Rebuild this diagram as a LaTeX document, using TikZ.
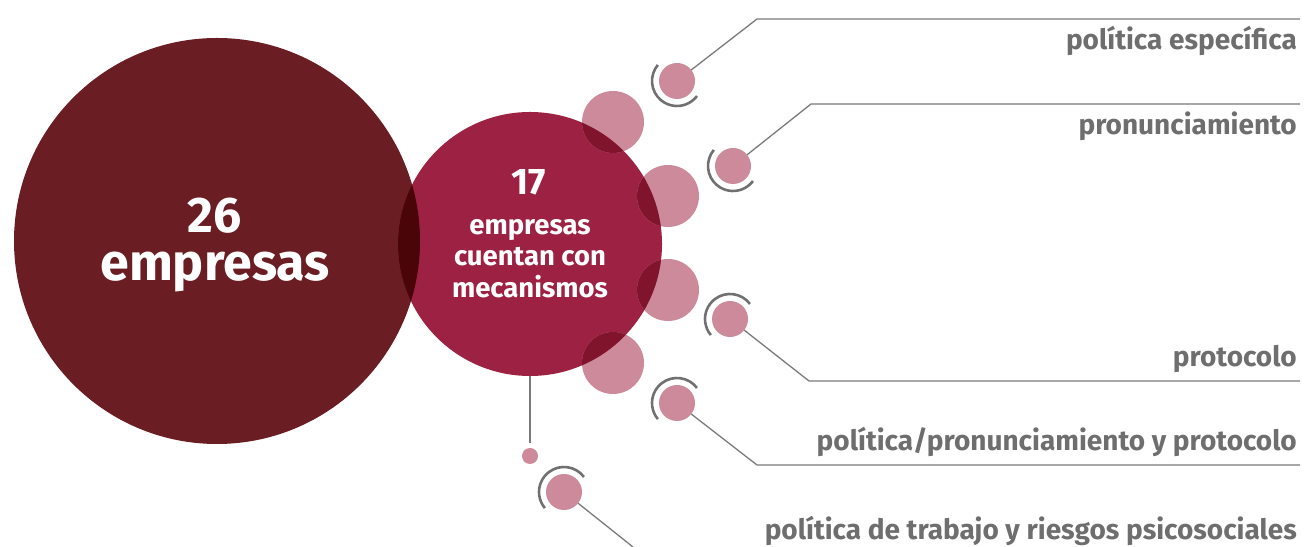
\documentclass[tikz,border=0pt]{standalone}
\usepackage{fontspec}
\setmainfont{Fira Sans}
\definecolor{bigc}{HTML}{6A1D22}
\definecolor{midc}{HTML}{9D2142}
\definecolor{bigmid}{HTML}{4A0509}
\definecolor{pinkc}{HTML}{CC8A9B}
\definecolor{pinkmid}{HTML}{80142D}
\definecolor{linec}{HTML}{7A7A7A}
\definecolor{arcc}{HTML}{707070}
\definecolor{textc}{HTML}{6E6E6E}
\begin{document}
\begin{tikzpicture}[x=1bp,y=1bp,
  disc/.style={circle,inner sep=0pt,outer sep=0pt,draw=none},
  conn/.style={draw=linec,line width=1.3bp},
  ring/.style={draw=arcc,line width=2.6bp},
  lab/.style={anchor=base east,inner sep=0pt,text=textc,font=\fontsize{28bp}{32bp}\selectfont\bfseries},
  wtext/.style={anchor=base,inner sep=0pt,text=white}]
\useasboundingbox (0,0) rectangle (1306,547);
% main circles
\node[disc,fill=bigc,minimum size=406bp] (big) at (217,306) {};
\node[disc,fill=midc,minimum size=264bp] (mid) at (530,303) {};
\begin{scope}
  \clip (217,306) circle (203);
  \fill[bigmid] (530,303) circle (132);
\end{scope}
% large pink discs
\node[disc,fill=pinkc,minimum size=62bp] (p1) at (613,425) {};
\node[disc,fill=pinkc,minimum size=62bp] (p2) at (668,351) {};
\node[disc,fill=pinkc,minimum size=62bp] (p3) at (668,257) {};
\node[disc,fill=pinkc,minimum size=62bp] (p4) at (613,184) {};
\begin{scope}
  \clip (530,303) circle (132);
  \fill[pinkmid] (613,425) circle (31);
  \fill[pinkmid] (668,351) circle (31);
  \fill[pinkmid] (668,257) circle (31);
  \fill[pinkmid] (613,184) circle (31);
\end{scope}
% texts in circles
\node[wtext,font=\fontsize{50bp}{54bp}\selectfont\bfseries] (t26) at (215,314) {26};
\node[wtext,font=\fontsize{52bp}{56bp}\selectfont\bfseries] (temp) at (215,266) {empresas};
\node[wtext,font=\fontsize{37bp}{40bp}\selectfont\bfseries] (t17) at (529,352) {17};
\node[wtext,font=\fontsize{27.5bp}{32bp}\selectfont\bfseries] (tm1) at (530,312) {empresas};
\node[wtext,font=\fontsize{27.5bp}{32bp}\selectfont\bfseries] (tm2) at (530,281) {cuentan con};
\node[wtext,font=\fontsize{27.5bp}{32bp}\selectfont\bfseries] (tm3) at (530,249) {mecanismos};
% small discs
\node[disc,fill=pinkc,minimum size=36bp] (sa) at (677,466) {};
\node[disc,fill=pinkc,minimum size=36bp] (sb) at (733,381) {};
\node[disc,fill=pinkc,minimum size=36bp] (sc) at (730,228) {};
\node[disc,fill=pinkc,minimum size=36bp] (sd) at (677,144) {};
\node[disc,fill=pinkc,minimum size=36bp] (se) at (564,55) {};
\node[disc,fill=pinkc,minimum size=16bp] (tiny) at (530,91) {};
% rings
\draw[ring] ([shift={(140:25)}]sa.center) arc[start angle=140,end angle=323,radius=25];
\draw[ring] ([shift={(140:25)}]sb.center) arc[start angle=140,end angle=323,radius=25];
\draw[ring] ([shift={(37:25)}]sc.center) arc[start angle=37,end angle=220,radius=25];
\draw[ring] ([shift={(37:25)}]sd.center) arc[start angle=37,end angle=220,radius=25];
\draw[ring] ([shift={(37:25)}]se.center) arc[start angle=37,end angle=220,radius=25];
% connector coordinates
\coordinate (ka) at (757,528); \coordinate (ea) at (1300,528);
\coordinate (kb) at (811,443); \coordinate (eb) at (1300,443);
\coordinate (kc) at (809,166); \coordinate (ec) at (1300,166);
\coordinate (kd) at (757,82);  \coordinate (ed) at (1300,82);
\coordinate (ke) at (633,0);
\draw[conn] (sa) -- (ka) -- (ea);
\draw[conn] (sb) -- (kb) -- (eb);
\draw[conn] (sc) -- (kc) -- (ec);
\draw[conn] (sd) -- (kd) -- (ed);
\draw[conn] (se) -- (ke);
\draw[draw=linec,line width=2bp] (mid.south) -- ([yshift=5bp]tiny.north);
% labels
\node[lab] (la) at (1297,497) {política específica};
\node[lab] (lb) at (1297,412) {pronunciamiento};
\node[lab] (lc) at (1297,180) {protocolo};
\node[lab] (ld) at (1297,96) {política/pronunciamiento y protocolo};
\node[lab] (le) at (1297,7) {política de trabajo y riesgos psicosociales};
\end{tikzpicture}
\end{document}
